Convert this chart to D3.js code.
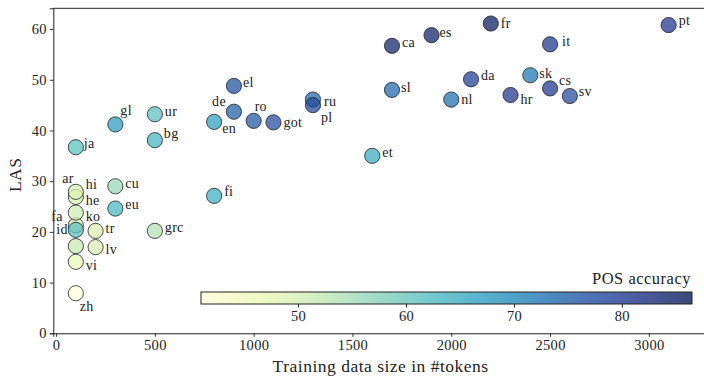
<!DOCTYPE html>
<html>
<head>
<meta charset="utf-8">
<script src="https://cdn.jsdelivr.net/npm/d3@7"></script>
<style>
  html, body { margin: 0; padding: 0; background: #fff; }
  svg { display: block; }
  svg text { font-family: "Liberation Serif", "DejaVu Serif", serif; fill: #222; }
</style>
</head>
<body>
<svg id="chart" width="704" height="376"></svg>
<script>
// Treebank languages: training size, parser LAS and POS tagging accuracy
const langs  = ["zh","vi","ko","fa","id","he","hi","ar","tr","lv","cu","eu","grc","ja","gl","ur","bg",
                "fi","en","de","el","ro","got","ru","pl","et","ca","sl","es","nl","da","fr","hr","sk","cs","it","sv","pt"];
const tokens = [100,100,100,100,100,100,100,100,200,200,300,300,500,100,300,500,500,
                800,800,900,900,1000,1100,1300,1300,1600,1700,1700,1900,2000,2100,2200,2300,2400,2500,2500,2600,3100];
const las    = [7.9,14.1,17.2,21.3,20.4,23.8,26.9,27.9,20.2,17.0,29.0,24.6,20.2,36.7,41.2,43.2,38.1,
                27.1,41.7,43.7,48.8,41.9,41.6,46.1,45.0,35.0,56.7,48.0,58.8,46.1,50.1,61.1,47.0,50.9,48.3,57.0,46.8,60.8];
const pos    = [41.0,46.5,51.5,51.0,61.5,50.5,49.5,49.0,49.5,49.0,56.0,63.0,53.5,61.5,67.5,61.0,63.5,
                64.5,67.0,75.0,77.0,76.0,77.5,74.0,78.0,65.0,84.0,74.0,84.5,73.0,79.0,85.5,80.5,72.0,80.5,80.5,77.5,80.5];

const xTicks = [0,500,1000,1500,2000,2500,3000];
const yTicks = [0,10,20,30,40,50,60];
const cbTicks = [50,60,70,80];

// label placement relative to each marker: [dx, dy, anchor]
const labelPos = {
  zh:[4,13,"start"], vi:[10,4,"start"], ko:[10,-29.5,"start"], fa:[-13,-9,"end"], id:[-8,0,"end"],
  he:[10,-12,"start"], hi:[10,-12.5,"start"], ar:[-2,-13,"end"], tr:[10,-2,"start"], lv:[10,2,"start"],
  cu:[10,-3,"start"], eu:[10,-4,"start"], grc:[10,-3,"start"], ja:[8,-4,"start"], gl:[5,-14,"start"],
  ur:[10,-3,"start"], bg:[9,-7,"start"], fi:[10,-4,"start"], en:[8,7,"start"], de:[-8,-10,"end"],
  el:[9,-3,"start"], ro:[1,-14,"start"], got:[10,0,"start"], ru:[11,2,"start"], pl:[8,12,"start"],
  et:[10,-3,"start"], ca:[10,-3,"start"], sl:[9,-2,"start"], es:[8,-3,"start"], nl:[10,0,"start"],
  da:[10,-4,"start"], fr:[10,0,"start"], hr:[10,5,"start"], sk:[9,-2,"start"], cs:[9,-8,"start"],
  it:[12,-3,"start"], sv:[9,-4,"start"], pt:[10,-5,"start"]
};

const FONT = "'Liberation Serif', 'DejaVu Serif', serif";
const svg = d3.select("#chart");
const plotL = 53.3, plotR = 704, plotT = 8.3, plotB = 333.3;

const x = d3.scaleLinear().domain([-14, 3279]).range([plotL, plotR]);
const y = d3.scaleLinear().domain([0, 64.1]).range([plotB, plotT]);
const color = d3.scaleSequential(d3.interpolateYlGnBu).domain([41, 86.5]);
const alpha = 0.74;

// axes
const gx = svg.append("g").attr("transform", `translate(0,${plotB})`)
  .call(d3.axisBottom(x).tickValues(xTicks).tickSize(3.5).tickPadding(3).tickFormat(d3.format("d")));
const gy = svg.append("g").attr("transform", `translate(${plotL},0)`)
  .call(d3.axisLeft(y).tickValues(yTicks).tickSize(3.5).tickPadding(3).tickFormat(d3.format("d")));
[gx, gy].forEach(g => {
  g.select(".domain").attr("stroke", "#222").attr("stroke-width", 1);
  g.selectAll(".tick line").attr("stroke", "#222").attr("stroke-width", 0.9);
  g.selectAll(".tick text").attr("font-family", FONT).attr("font-size", 14.5)
    .attr("letter-spacing", 0.3).attr("fill", "#222");
});
// top spine
svg.append("line").attr("x1", plotL).attr("x2", plotR).attr("y1", plotT).attr("y2", plotT)
  .attr("stroke", "#222").attr("stroke-width", 1);

// axis titles
svg.append("text").attr("x", (plotL + plotR) / 2 + 2).attr("y", 372)
  .attr("text-anchor", "middle").attr("font-family", FONT).attr("font-size", 17.5)
  .attr("letter-spacing", 0.5).text("Training data size in #tokens");
svg.append("text").attr("transform", `translate(21,${(plotT + plotB) / 2 + 4}) rotate(-90)`)
  .attr("text-anchor", "middle").attr("font-family", FONT).attr("font-size", 17.5)
  .attr("letter-spacing", 0.5).text("LAS");

// markers
const pts = langs.map((l, i) => ({ l, t: tokens[i], s: las[i], p: pos[i] }));
svg.append("g").selectAll("circle").data(pts).join("circle")
  .attr("cx", d => x(d.t)).attr("cy", d => y(d.s)).attr("r", 7.6)
  .attr("fill", d => color(d.p)).attr("fill-opacity", alpha)
  .attr("stroke", "#222").attr("stroke-opacity", 0.8).attr("stroke-width", 1);

// language labels
svg.append("g").selectAll("text").data(pts).join("text")
  .attr("x", d => x(d.t) + labelPos[d.l][0])
  .attr("y", d => y(d.s) + labelPos[d.l][1])
  .attr("dy", "0.32em")
  .attr("text-anchor", d => labelPos[d.l][2])
  .attr("font-family", FONT)
  .attr("font-size", 14)
  .attr("letter-spacing", 0.3)
  .text(d => d.l);

// colour bar
const cbX0 = 201, cbX1 = 692, cbY = 292, cbH = 12;
const cbScale = d3.scaleLinear().domain(color.domain()).range([cbX0, cbX1]);
const grad = svg.append("defs").append("linearGradient").attr("id", "cbgrad");
d3.range(0, 1.0001, 0.02).forEach(t => {
  grad.append("stop").attr("offset", t)
    .attr("stop-color", color(color.domain()[0] + t * (color.domain()[1] - color.domain()[0])))
    .attr("stop-opacity", alpha + 0.06);
});
svg.append("rect").attr("x", cbX0).attr("y", cbY).attr("width", cbX1 - cbX0).attr("height", cbH)
  .attr("fill", "url(#cbgrad)").attr("stroke", "#222").attr("stroke-width", 1);
const gcb = svg.append("g").attr("transform", `translate(0,${cbY + cbH})`)
  .call(d3.axisBottom(cbScale).tickValues(cbTicks).tickSize(3.5).tickPadding(3));
gcb.select(".domain").remove();
gcb.selectAll(".tick line").attr("stroke", "#222");
gcb.selectAll(".tick text").attr("font-family", FONT).attr("font-size", 14.5)
  .attr("letter-spacing", 0.3).attr("fill", "#222");
svg.append("text").attr("x", cbX1 - 1).attr("y", 284).attr("text-anchor", "end")
  .attr("font-family", FONT).attr("font-size", 16.5).attr("letter-spacing", 0.5).text("POS accuracy");
</script>
</body>
</html>
